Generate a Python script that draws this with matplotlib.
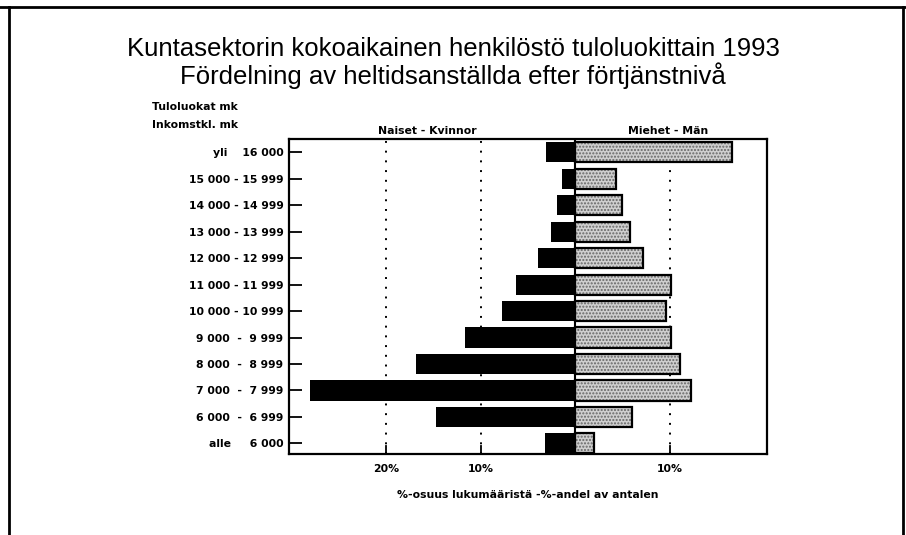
import numpy as np
import matplotlib.pyplot as plt
from matplotlib.lines import Line2D

plt.rcParams['font.family'] = ['DejaVu Sans']

# income classes, top to bottom
categories = ['yli    16 000', '15 000 - 15 999', '14 000 - 14 999', '13 000 - 13 999',
              '12 000 - 12 999', '11 000 - 11 999', '10 000 - 10 999', '9 000  -  9 999',
              '8 000  -  8 999', '7 000  -  7 999', '6 000  -  6 999', 'alle     6 000']
# share of headcount, %
women = [3.1, 1.4, 1.9, 2.6, 3.9, 6.3, 7.8, 11.7, 16.9, 28.1, 14.7, 3.2]
men = [16.6, 4.3, 5.0, 5.8, 7.2, 10.1, 9.6, 10.1, 11.1, 12.3, 6.0, 2.0]
xticks = [-20, -10, 10]
xticklabels = ['20%', '10%', '10%']

small = dict(fontsize=7.8, fontweight='bold')
title_font = ['Liberation Sans', 'DejaVu Sans']

fig = plt.figure(figsize=(9.06, 5.35), dpi=100)
ax = fig.add_axes([0.319, 0.1514, 0.5276, 0.5888])

y = np.arange(len(categories))[::-1]
h = 0.76

# women (left, solid black)
ax.barh(y, [-v for v in women], height=h, color='black', zorder=3)
# men (right, stippled grey)
ax.barh(y, men, height=h, color='#cfcfcf', hatch='.....', edgecolor='#666666',
        linewidth=0, zorder=3)
ax.barh(y, men, height=h, fill=False, edgecolor='black', linewidth=1.6, zorder=4)

for gx in xticks:
    ax.axvline(gx, color='black', linestyle=(0, (1, 4)), linewidth=1.4, zorder=1)
ax.axvline(0, color='black', linewidth=1.5, zorder=5)

ax.set_xlim(-30.3, 20.3)
ax.set_ylim(-0.4, 11.5)
ax.set_yticks(y)
ax.set_yticklabels(categories, **small)
ax.set_xticks(xticks)
ax.set_xticklabels(xticklabels, **small)
ax.tick_params(axis='y', direction='in', length=9, width=1.3, pad=4)
ax.tick_params(axis='x', direction='in', length=0, width=1.3, pad=7)
for s in ax.spines.values():
    s.set_linewidth(1.6)
for gx in xticks:
    ax.plot([gx, gx], [-0.4, -0.1], color='black', linewidth=1.3, zorder=2)

ax.set_xlabel('%-osuus lukumääristä -%-andel av antalen', labelpad=12, **small)

ax.text(-15.7, 11.62, 'Naiset - Kvinnor', ha='center', va='bottom', **small)
ax.text(9.8, 11.62, 'Miehet - Män', ha='center', va='bottom', **small)

fig.text(0.168, 0.8, 'Tuloluokat mk', va='center', **small)
fig.text(0.168, 0.766, 'Inkomstkl. mk', va='center', **small)

fig.text(0.5, 0.908, 'Kuntasektorin kokoaikainen henkilöstö tuloluokittain 1993',
         ha='center', va='center', fontsize=18.5, family=title_font)
fig.text(0.5, 0.859, 'Fördelning av heltidsanställda efter förtjänstnivå',
         ha='center', va='center', fontsize=18.5, family=title_font)

# page frame
fig.add_artist(Line2D([0.01, 0.01], [0, 0.987], color='black', linewidth=2))
fig.add_artist(Line2D([0.0, 1.0], [0.987, 0.987], color='black', linewidth=2))
fig.add_artist(Line2D([0.997, 0.997], [0, 0.987], color='black', linewidth=2))

fig.savefig('out.png', dpi=100)
